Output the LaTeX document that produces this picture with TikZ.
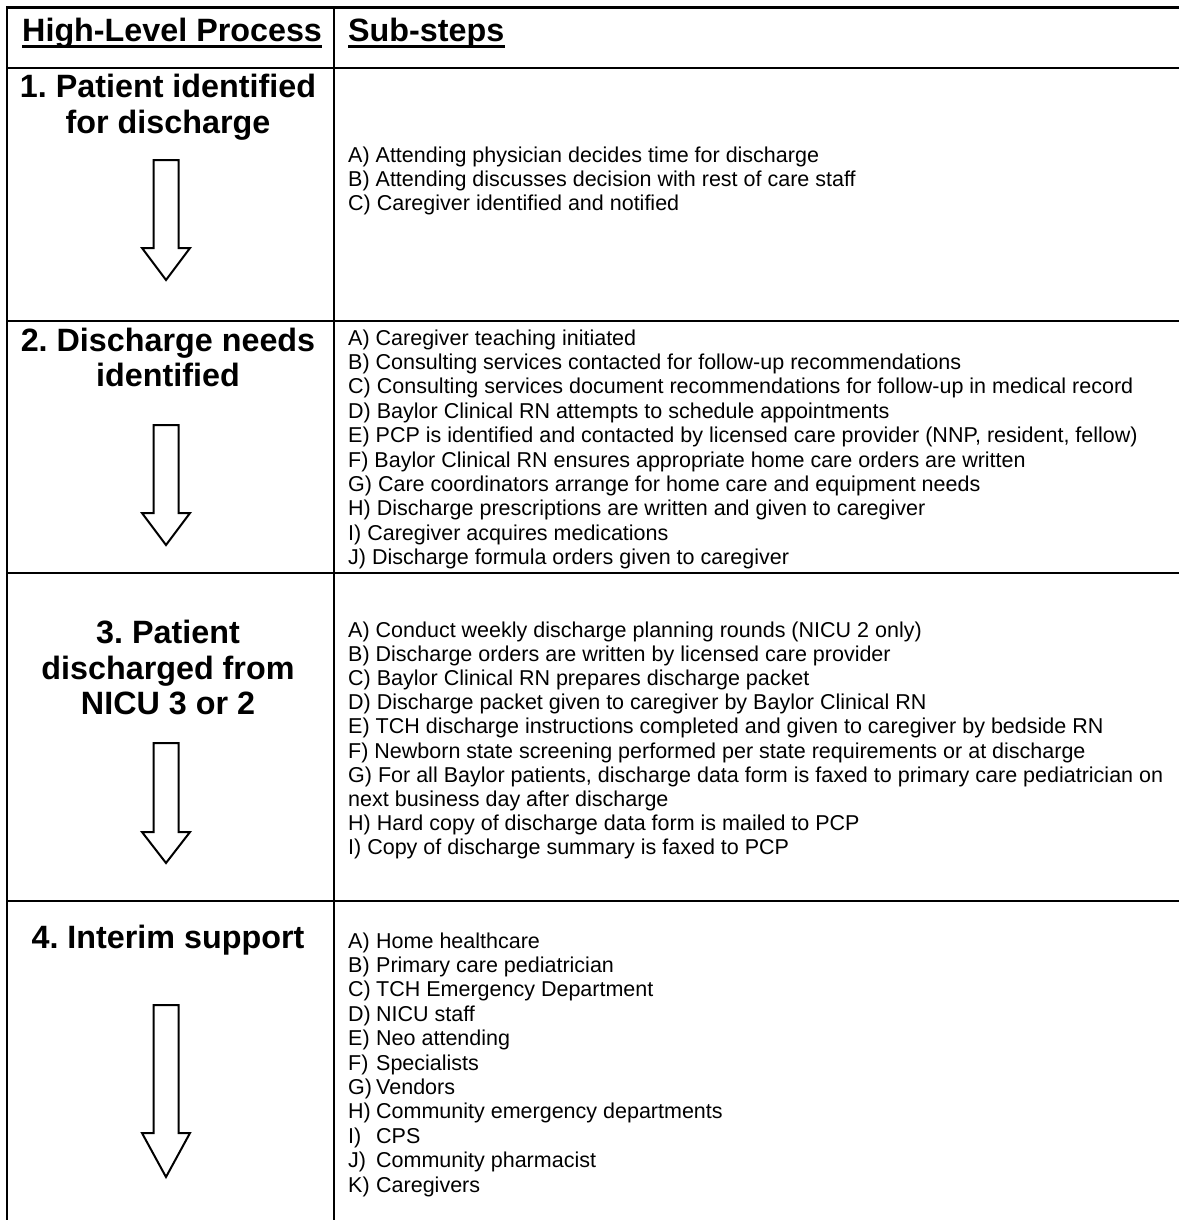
\documentclass[tikz,border=0pt]{standalone}
\usepackage{fontspec}
\setmainfont{Liberation Sans}
\frenchspacing
\tikzset{
  tbl/.style={line width=2.2pt},
  ttl/.style={font=\bfseries\fontsize{32.3}{36}\selectfont, inner sep=0pt, anchor=base},
  hdr/.style={font=\bfseries\fontsize{32.3}{36}\selectfont, inner sep=0pt, anchor=base west},
  uline/.style={line width=2.3pt},
  sub/.style={font=\fontsize{21.5}{24.4}\selectfont, inner sep=0pt, anchor=base west},
  blockarrow/.style={draw, line width=2pt, fill=white, line join=miter}
}
\newcommand{\blockarrow}[3]{% top, headbase, tip
  \draw[blockarrow] (153.5,#1) -- (178.5,#1) -- (178.5,#2) -- (190,#2) -- (166,#3) -- (142,#2) -- (153.5,#2) -- cycle;}
\newcommand{\lbl}[2]{\makebox[28pt][l]{#1}#2}
\begin{document}
\begin{tikzpicture}[x=1pt,y=-1pt]
\useasboundingbox (0,0) rectangle (1179,1220);
% table grid
\draw[tbl] (7,7.5) -- (1179,7.5);
\draw[tbl] (7,68) -- (1179,68);
\draw[tbl] (7,321) -- (1179,321);
\draw[tbl] (7,573) -- (1179,573);
\draw[tbl] (7,901) -- (1179,901);
\draw[tbl] (7,6.4) -- (7,1220);
\draw[tbl] (334,6.4) -- (334,1220);
% header
\node[hdr] (h1) at (22,42) {High-Level Process};
\node[hdr] (h2) at (348,42) {Sub-steps};
\draw[uline] ([yshift=-4.5pt]h1.base west) -- ([yshift=-4.5pt]h1.base east);
\draw[uline] ([yshift=-4.5pt]h2.base west) -- ([yshift=-4.5pt]h2.base east);
% row 1
\node[ttl] (t1a) at (168,98) {1. Patient identified};
\node[ttl] (t1b) at (168,133) {for discharge};
\blockarrow{160}{248}{280}
\foreach \t [count=\i] in {
  A) Attending physician decides time for discharge,
  B) Attending discusses decision with rest of care staff,
  C) Caregiver identified and notified}
  \node[sub] (s1-\i) at (348,{162+24.4*(\i-1)}) {\t};
% row 2
\node[ttl] (t2a) at (168,351) {2. Discharge needs};
\node[ttl] (t2b) at (168,386) {identified};
\blockarrow{425}{513}{545}
\foreach \t [count=\i] in {
  A) Caregiver teaching initiated,
  B) Consulting services contacted for follow-up recommendations,
  C) Consulting services document recommendations for follow-up in medical record,
  D) Baylor Clinical RN attempts to schedule appointments,
  {E) PCP is identified and contacted by licensed care provider (NNP, resident, fellow)},
  F) Baylor Clinical RN ensures appropriate home care orders are written,
  G) Care coordinators arrange for home care and equipment needs,
  H) Discharge prescriptions are written and given to caregiver,
  I) Caregiver acquires medications,
  J) Discharge formula orders given to caregiver}
  \node[sub] (s2-\i) at (348,{345+24.4*(\i-1)}) {\t};
% row 3
\node[ttl] (t3a) at (168,643) {3. Patient};
\node[ttl] (t3b) at (168,679) {discharged from};
\node[ttl] (t3c) at (168,714) {NICU 3 or 2};
\blockarrow{743}{832}{863}
\foreach \t [count=\i] in {
  A) Conduct weekly discharge planning rounds (NICU 2 only),
  B) Discharge orders are written by licensed care provider,
  C) Baylor Clinical RN prepares discharge packet,
  D) Discharge packet given to caregiver by Baylor Clinical RN,
  E) TCH discharge instructions completed and given to caregiver by bedside RN,
  F) Newborn state screening performed per state requirements or at discharge,
  {G) For all Baylor patients, discharge data form is faxed to primary care pediatrician on},
  next business day after discharge,
  H) Hard copy of discharge data form is mailed to PCP,
  I) Copy of discharge summary is faxed to PCP}
  \node[sub] (s3-\i) at (348,{637+24.2*(\i-1)}) {\t};
% row 4
\node[ttl] (t4a) at (168,948) {4. Interim support};
\blockarrow{1005}{1133}{1177}
\foreach \a/\b [count=\i] in {
  A)/Home healthcare,
  B)/Primary care pediatrician,
  C)/TCH Emergency Department,
  D)/NICU staff,
  E)/Neo attending,
  F)/Specialists,
  G)/Vendors,
  H)/Community emergency departments,
  I)/CPS,
  J)/Community pharmacist,
  K)/Caregivers}
  \node[sub] (s4-\i) at (348,{948+24.4*(\i-1)}) {\lbl{\a}{\b}};
\end{tikzpicture}
\end{document}
